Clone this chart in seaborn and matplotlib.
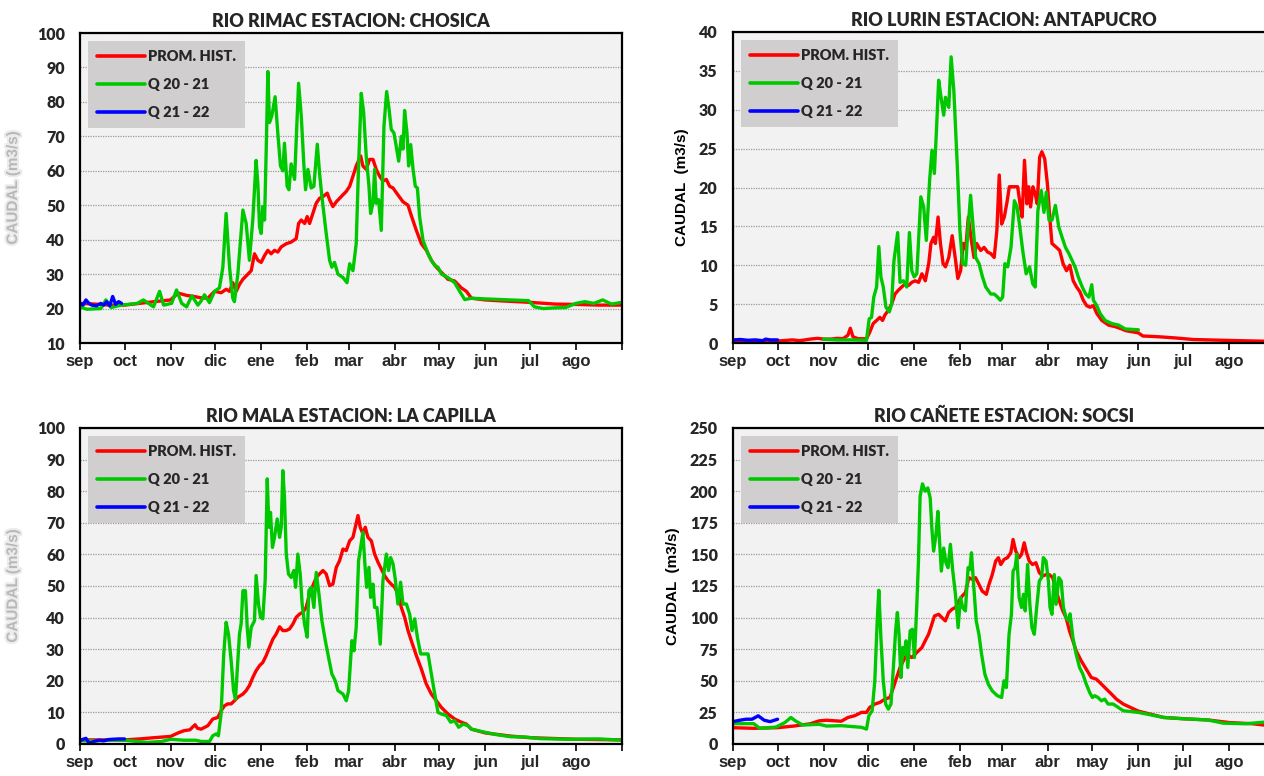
import matplotlib
matplotlib.use("Agg")
import matplotlib.pyplot as plt
import matplotlib.patheffects as pe
import pandas as pd
import seaborn as sns

# meses del año hidrologico (sep -> ago), dia de inicio de cada mes
months = ["sep", "oct", "nov", "dic", "ene", "feb", "mar", "abr", "may", "jun", "jul", "ago"]
month_start = [0, 30, 61, 91, 122, 153, 181, 212, 242, 273, 303, 334]
series_names = ["PROM. HIST.", "Q 20 - 21", "Q 21 - 22"]
colors = ["#ff0000", "#00c800", "#0000ff"]

# ---------------- RIMAC - CHOSICA (dia, caudal) ----------------
rimac_hist = [(0, 21.5), (10, 21.3), (20, 21), (30, 21), (40, 21.5), (50, 22), (61, 22.5), (66, 24.5),
              (72, 23.8), (77, 23.5), (81.6, 23.1), (86.1, 23), (90.6, 25), (95.1, 24.6), (98.4, 25.6),
              (100.7, 25), (102.9, 27.5), (105.2, 25), (107.4, 27), (109.7, 28.5), (113.1, 30), (115.3, 31),
              (117.5, 35.9), (119.8, 34), (122, 33.4), (124.3, 35.4), (126.5, 36.9), (128.7, 35.9),
              (131, 36.9), (133.2, 36.4), (135.5, 37.9), (138.8, 38.8), (142.2, 39.3), (145.6, 40.3),
              (147.2, 44.7), (149, 45.7), (151.3, 44.7), (153, 46.7), (154.6, 44.7), (156.8, 47.6),
              (159.1, 50.6), (161.3, 52), (163.6, 52.5), (166.5, 53.5), (168.1, 51.6), (170.3, 49.6),
              (172.6, 51), (175.9, 52.5), (179.3, 54), (181.6, 55.5), (183.8, 58.4), (186, 61.4),
              (189, 64.3), (190.5, 61.4), (192.8, 60.4), (195, 63.3), (197.3, 63.3), (199.5, 60.4),
              (201.8, 58.4), (204, 57), (206.3, 57.5), (208.5, 55.5), (210.8, 55), (214.1, 53), (217.5, 51),
              (220.9, 50), (223.1, 47), (226.5, 42.7), (229.9, 38.8), (233.3, 36.9), (236.6, 34), (240, 32),
              (243.4, 30.5), (247.8, 28.5), (252.3, 28), (256.8, 26), (260.2, 25), (263.6, 23), (273, 22.5),
              (285, 22.2), (303, 21.8), (320, 21.3), (334, 21.2), (350, 21), (365, 21)]
rimac_q2021 = [(0, 20.5), (4.6, 19.8), (14.1, 20), (17.4, 22.5), (20.9, 20.3), (27.7, 21), (38.6, 21.5),
               (42.7, 22.5), (49.5, 20.5), (53.6, 25), (56.3, 21), (61.7, 21.5), (65, 25.4), (68.5, 21.5),
               (71.8, 20.5), (75.3, 23.7), (79.4, 21), (81.6, 22.2), (83.8, 24), (87.2, 21.7), (90.6, 25),
               (93.9, 26), (96.2, 32), (98.4, 47.6), (100.7, 32), (102.9, 23), (104, 22), (106.3, 30),
               (109.7, 48.6), (111.9, 44.7), (114.1, 34), (116.4, 46), (118.6, 63), (119.8, 56),
               (120.9, 43.7), (122, 41.8), (123.1, 49.6), (124.3, 45.7), (125.4, 66), (126.5, 88.8),
               (127.6, 74), (129.2, 76), (131.4, 81.5), (133.2, 71), (135, 61.4), (136.6, 60), (137.7, 68),
               (139.5, 55.5), (140.7, 54.5), (142.2, 62), (144.5, 57.5), (147.2, 85.4), (149, 76),
               (150.8, 61.4), (151.9, 54.5), (153.5, 60.4), (155.7, 55), (157.5, 55.5), (159.8, 67.7),
               (161.3, 59.4), (162.9, 52.5), (165.8, 41.8), (168.1, 34), (169.6, 32), (171.4, 33.4),
               (173.7, 30), (177.1, 29), (179.8, 27.5), (181.6, 33), (183.8, 31), (186, 38.8), (187.6, 61.4),
               (189.4, 82.5), (191, 77), (192.8, 64), (194.6, 55.5), (195.7, 47.6), (197.3, 50.6),
               (198.4, 60.4), (199.5, 50.6), (201.1, 51.6), (202.9, 42.7), (204.7, 73), (206.5, 83),
               (208.1, 78), (209.6, 72), (211.4, 71), (213, 67), (214.6, 62.8), (216.4, 70), (217.5, 66.3),
               (218.6, 77.5), (220.2, 71), (221.3, 61.4), (222.7, 67.6), (224.3, 60.4), (225.8, 55.5),
               (227.2, 55), (228.7, 46.7), (231, 39.8), (234.4, 35.9), (236.6, 34), (238.9, 32.5),
               (241.1, 32), (243.4, 30), (247.8, 29), (252.3, 27.5), (255.7, 25), (259.1, 22.6),
               (263.6, 23), (273, 22.8), (290, 22.5), (302, 22.3), (306, 20.5), (312, 20), (320, 20.2),
               (327, 20.3), (334, 21.5), (340, 22), (346, 21.5), (352, 22.5), (358, 21.3), (365, 21.8)]
rimac_q2122 = [(0, 21.5), (2, 21), (4, 22.5), (6, 21.5), (8, 21), (11, 20.8), (14, 21.5), (16, 21),
               (18, 22), (20, 20.8), (22, 23.5), (24, 21.2), (26, 22), (28, 21.5)]

# ---------------- LURIN - ANTAPUCRO ----------------
lurin_hist = [(0, 0.3), (10, 0.25), (20, 0.2), (30, 0.25), (40, 0.4), (45, 0.3), (52, 0.5), (57, 0.6),
              (61, 0.5), (66, 0.5), (70, 0.6), (74, 0.55), (77.4, 1), (79, 1.9), (80.8, 0.8), (84.2, 0.55),
              (89.9, 0.55), (92.1, 1.4), (94.4, 2.5), (96.7, 2.9), (98.9, 3.3), (100.7, 2.9), (102.3, 3.6),
              (104.6, 4.2), (106.8, 5), (109.1, 6.3), (111.4, 6.8), (113.6, 7.2), (115.9, 7.6), (118.2, 7.4),
              (120.4, 7.8), (122.7, 8), (125, 7.8), (127.2, 8.9), (129.5, 8), (131.8, 10.2), (133.3, 12.8),
              (135.1, 13.6), (136.3, 12.8), (138.1, 16.2), (139.7, 12.8), (141.5, 10.2), (143.1, 9.8),
              (145.3, 11), (147.6, 13.8), (149.9, 10.6), (151.4, 8.3), (153.3, 9.3), (155.1, 12.8),
              (156.7, 12.1), (158.5, 16.2), (160.5, 13.2), (162.3, 11), (164.1, 12.8), (166.8, 11.9),
              (169.1, 12.3), (171.4, 11.7), (173.6, 11.5), (175.9, 11), (177.7, 14.5), (179.3, 21.6),
              (180.9, 15.3), (182.7, 16.2), (184.5, 18.1), (186.1, 20.1), (188.4, 20.1), (191.7, 20.1),
              (193.6, 17.5), (194.7, 16.2), (196.3, 23.5), (197.9, 17.9), (199.2, 20.1), (200.4, 17.5),
              (202, 20.1), (203.5, 19.2), (204.9, 17.9), (206.5, 23.9), (208, 24.6), (209.9, 23.7),
              (211.7, 20.5), (213.3, 16.2), (214.8, 12.8), (217.8, 12.3), (220, 11.9), (222.3, 10.2),
              (224.6, 9.3), (226.8, 10), (229.1, 8), (231.4, 7.2), (233.6, 6.6), (235.9, 5.5), (238.2, 4.8),
              (240.4, 4.6), (242.7, 4.8), (245, 3.8), (248.4, 2.9), (252.9, 2.3), (257.4, 2.1), (261.9, 1.8),
              (264.2, 1.6), (273, 1.3), (276, 0.9), (287, 0.8), (298, 0.65), (310, 0.45), (330, 0.35),
              (365, 0.2)]
lurin_q2021 = [(61, 0.5), (70, 0.4), (80, 0.4), (89.9, 0.35), (91.7, 3.1), (93.3, 3.3), (94.8, 5.9),
               (96.7, 7.2), (98.2, 12.4), (99.6, 8.5), (101.2, 7.2), (103, 4.6), (105.3, 4), (106.8, 5),
               (108.4, 10.6), (110.9, 14.2), (112.5, 7.8), (114.8, 8), (117, 7.2), (118.8, 14.2),
               (120.4, 9.3), (122, 8.5), (123.8, 8.9), (126.5, 18.8), (128.4, 17.5), (130.2, 13.2),
               (132.4, 20.9), (134, 24.8), (135.6, 21.8), (137, 27.3), (138.5, 33.8), (140.1, 31.6),
               (141.9, 29.3), (143.1, 31.6), (145.3, 30.3), (146.9, 36.8), (148.7, 32.5), (151, 23),
               (152.8, 14.5), (154.6, 10.2), (156.7, 10), (158.2, 14.5), (160, 19), (161.9, 14.5),
               (163.4, 11), (165.7, 10.2), (168, 8.5), (170.2, 7.2), (173.6, 6.3), (175.9, 6.3),
               (178.2, 5.9), (180, 5.5), (181.6, 5.9), (183.1, 10.2), (185, 9.8), (187.2, 12.3),
               (189.5, 18.3), (191.3, 17.5), (192.9, 15.3), (195.1, 11.9), (197.4, 8.9), (199.7, 9.8),
               (201.9, 7.6), (203.5, 7.2), (205.3, 17), (207.6, 19.6), (209.4, 16.8), (211, 19.4),
               (212.8, 15.8), (214.8, 15.8), (217.1, 17.7), (219.4, 14.9), (221.6, 13.6), (223.9, 12.3),
               (226.2, 11.5), (228.4, 10.6), (230.7, 9.6), (232.5, 8.5), (235.2, 7.2), (237.5, 6.3),
               (239.7, 5.9), (241.6, 7.5), (242.7, 5.5), (245, 4.8), (247.2, 3.8), (250.6, 2.9),
               (255.1, 2.5), (259.7, 2.3), (264.2, 1.8), (273, 1.7)]
lurin_q2122 = [(0, 0.4), (5, 0.45), (10, 0.35), (15, 0.4), (20, 0.3), (22, 0.5), (25, 0.4), (30, 0.4)]

# ---------------- MALA - LA CAPILLA ----------------
mala_hist = [(0, 1.3), (15, 1.3), (30, 1.3), (40, 1.6), (50, 2), (61, 2.4), (66, 3.5), (70, 4.2), (74, 4.5),
             (77.5, 6.1), (79, 5), (81.6, 4.7), (86.1, 5.8), (89.4, 7.9), (92.8, 8.4), (95, 10.5),
             (97.3, 12.1), (99.5, 12.7), (101.8, 12.7), (104, 13.7), (106.3, 14.8), (109.7, 15.8),
             (111.9, 16.9), (114.1, 18.5), (116.4, 21.1), (118.6, 23.2), (120.9, 24.8), (123.1, 25.8),
             (125.4, 28), (127.6, 30.6), (129.9, 33.2), (132.1, 34.8), (134.4, 37.1), (136.6, 35.9),
             (138.9, 35.9), (141.1, 36.4), (143.4, 38), (145.6, 40.1), (147.8, 41.1), (150.1, 41.7),
             (152.3, 43.2), (154.6, 47.5), (156.8, 50.1), (159.1, 52.7), (161.3, 53.8), (163.6, 54.9),
             (165.8, 53.8), (168.1, 50.1), (170.3, 50.6), (172.6, 55.9), (174.8, 58), (177.1, 61.7),
             (179.3, 61.2), (181.6, 64.3), (183.8, 65.4), (185.4, 68.6), (187.2, 72.3), (188.7, 68.6),
             (190.5, 66.5), (192.1, 68.6), (193.9, 65.4), (196.2, 64.3), (198.4, 60.1), (200.7, 57.5),
             (202.9, 55.4), (205.1, 53.3), (207.4, 51.7), (209.6, 50.6), (211.9, 49.6), (214.1, 47.5),
             (216.4, 43.2), (218.6, 40.1), (220.9, 35.9), (223.1, 32.7), (226.5, 28), (229.9, 23.7),
             (233.2, 19), (236.6, 15.8), (240, 13.7), (243.3, 11.6), (247.8, 9.5), (252.3, 7.9),
             (256.8, 6.9), (260.2, 6.3), (263.6, 4.7), (273, 3.5), (290, 2.5), (303, 2), (334, 1.5),
             (365, 1.3)]
mala_q2021 = [(0, 1), (10, 1), (20, 1.2), (30, 1.2), (45, 0.5), (55, 0.8), (61, 1.5), (70, 1.2), (78, 1.2),
              (81.6, 0.8), (87.2, 0.8), (89.4, 2.6), (91.7, 3.2), (93.2, 2.6), (95, 9.5), (96.8, 28.5),
              (98.4, 38.5), (100, 34.8), (101.8, 26.4), (103.4, 16.9), (104.7, 14.2), (106.3, 26.4),
              (107.4, 34.8), (108.5, 38), (109.7, 48.5), (111.4, 48.5), (112.6, 36.9), (113.7, 30.6),
              (115.3, 36.9), (117.5, 39), (118.6, 53.3), (120.2, 44.3), (121.6, 40.1), (123.1, 39.6),
              (124.7, 51.7), (126.1, 83.9), (127.2, 68.6), (128.3, 73.3), (129.6, 62.2), (131, 65.4),
              (132.8, 71.2), (134.4, 65.4), (135.5, 68.6), (136.6, 86.5), (137.7, 78), (138.9, 60.1),
              (140.4, 53.8), (142.2, 52.7), (144, 54.9), (145.2, 49.6), (146.7, 60.1), (148.3, 53.8),
              (149.6, 44.3), (151.2, 38), (153, 33.8), (154.1, 48.5), (155.7, 49.6), (157.5, 43.2),
              (159.1, 54.3), (160.9, 47.5), (162.9, 39), (165.2, 32.7), (167.4, 27.4), (169.6, 22.2),
              (171.9, 20), (173.7, 16.9), (177.1, 15.8), (179.3, 13.7), (180.9, 16.9), (182.2, 26.4),
              (183.1, 32.7), (184.5, 29.5), (186, 36.9), (187.6, 58), (189, 62.2), (190.5, 67),
              (191.7, 58), (193, 49.6), (194.6, 55.9), (195.7, 46.4), (197.3, 50.6), (198.4, 43.2),
              (200, 43.2), (202.2, 31.6), (204, 51.7), (206.3, 60.1), (207.8, 54.9), (209.2, 59),
              (210.8, 57), (212.3, 52.2), (214.1, 44.3), (215.9, 51.2), (217.5, 44.3), (219.8, 44.3),
              (222, 41.1), (223.6, 35.9), (225.4, 39.6), (227.2, 33.8), (229.4, 28.5), (232.1, 28.5),
              (234.4, 28.5), (236.6, 22.2), (238.9, 15.8), (241.1, 10), (243.3, 9.5), (246.7, 9),
              (249.6, 6.9), (252.3, 7.4), (255, 5.3), (258, 6.3), (261.3, 5.8), (263.6, 4.7), (270, 4),
              (280, 3), (290, 2.3), (300, 2.2), (310, 1.7), (330, 1.5), (350, 1.6), (365, 1.2)]
mala_q2122 = [(0, 1), (2, 1.5), (4, 1.8), (6, 0.3), (8, 0.5), (10, 0.9), (13, 1.2), (16, 1), (19, 1.4),
              (22, 1.5), (26, 1.6), (30, 1.6)]

# ---------------- CAÑETE - SOCSI ----------------
canete_hist = [(0, 12.9), (14, 12.4), (30, 12.9), (41, 14.2), (52, 16), (58, 18.3), (63, 18.8), (72.9, 18),
               (77.4, 21), (82, 22.4), (86.5, 25), (89.9, 25), (92.1, 29), (95.5, 31.6), (98.9, 32.9),
               (102.3, 35.5), (105.7, 36.8), (108, 44.7), (110.2, 52.6), (112.5, 60.5), (114.7, 65.8),
               (117, 71), (120.4, 68.4), (122.6, 71), (124.9, 73.7), (127.2, 76.3), (129.4, 81.6),
               (131.7, 86.8), (133.9, 94.7), (135.7, 101.3), (138.5, 102.6), (140.7, 100), (143, 97.4),
               (145.2, 104), (147.5, 106.6), (149.8, 108), (152, 113), (154.3, 117), (156.5, 119.7),
               (158.8, 131.6), (161.1, 130.3), (163.3, 131.6), (165.6, 126.3), (167.8, 121), (170.6, 118.4),
               (172.4, 126.3), (174.6, 134), (176.9, 144.7), (178.7, 147.4), (180.3, 142), (182.5, 146),
               (184.8, 147.4), (187.1, 151.3), (188.6, 161.8), (190.4, 152.6), (192.7, 147.4), (194.3, 150),
               (196.1, 159.2), (197.7, 151.3), (199.5, 144.7), (201.7, 142), (204, 143.4), (206.3, 135.5),
               (208.5, 132.9), (210.8, 134), (213, 134), (215.3, 131.6), (217.6, 121), (219.8, 113),
               (222.1, 105.3), (224.3, 100), (226.6, 89.5), (228.9, 81.6), (231.1, 73.7), (234.5, 65.8),
               (237.9, 59.2), (241.3, 52.6), (244.7, 51.3), (248.1, 47.4), (251.5, 43.4), (254.9, 39.5),
               (258.2, 35.5), (262.8, 31.6), (273, 26), (290, 21), (303, 20), (320, 19), (334, 17),
               (350, 16), (365, 14)]
canete_q2021 = [(0, 16.1), (14, 16.1), (18, 12.4), (29, 13.4), (35, 17), (39, 21), (42, 18.3), (47, 15),
                (58, 15.6), (63, 14.2), (72.9, 14.5), (86.5, 13.2), (89.9, 11.8), (91.5, 22.4), (93.7, 26.3),
                (95.5, 50), (97.1, 97), (98.2, 121.6), (99.6, 84), (101.2, 50), (102.8, 31.6), (104.6, 27.6),
                (106.4, 31.6), (108, 60.5), (109.5, 89.5), (110.7, 104), (111.8, 86.8), (113.1, 52.6),
                (114.3, 76.3), (115.4, 71), (116.5, 81.6), (117.7, 60.5), (119.3, 89.5), (120.8, 90.8),
                (122.2, 68.4), (123.8, 110.5), (124.9, 144.7), (126, 196), (127.6, 205.8), (129.4, 200),
                (131.2, 202.6), (132.8, 194.7), (133.9, 171), (135.1, 152.6), (136.7, 165.8), (138, 184),
                (139.1, 160.5), (140.3, 136.8), (141.9, 155), (143.4, 143.4), (144.8, 139.5), (146.4, 158),
                (148, 136.8), (149.8, 118.4), (151.6, 92), (153.2, 115.8), (154.7, 108), (156.5, 105.3),
                (158.3, 139.5), (159.5, 138), (160.6, 151.3), (162.2, 123.7), (163.8, 97.4), (165.6, 86.8),
                (167.4, 71), (169.6, 55.3), (171.9, 47.4), (174.6, 42), (178, 38.2), (180.9, 36.8),
                (182.5, 50), (184.1, 44.7), (185.9, 86.8), (187.5, 102.6), (188.6, 136.8), (190, 139.5),
                (191.1, 150), (192.7, 115.8), (194.3, 108), (195.6, 118.4), (196.8, 105.3), (198.4, 142),
                (199.9, 110.5), (201.3, 92), (202.9, 86.8), (204.5, 108), (206.3, 129), (207.8, 131.6),
                (209, 147.4), (210.8, 144.7), (212.4, 129), (213.5, 108), (214.8, 102.6), (216.4, 134),
                (217.6, 110.5), (219.4, 131.6), (221, 129), (222.5, 108), (224.3, 100), (226.1, 97.4),
                (227, 103), (228.9, 84.2), (231.1, 71), (233.4, 60.5), (235.6, 55.3), (237.9, 47.4),
                (240.2, 40.8), (242, 36.8), (243.6, 38.2), (245.8, 36.8), (248.1, 34.2), (250.3, 35.5),
                (252.6, 31.6), (256, 31.6), (259.4, 29), (262.8, 26.3), (273, 25), (290, 21), (303, 20),
                (320, 19), (330, 16.5), (345, 16), (355, 17), (365, 18)]
canete_q2122 = [(0, 17.7), (4.6, 18.8), (8.7, 19.6), (12.8, 19.6), (17, 22.3), (21, 18.8), (25, 17.7),
                (30, 19.6)]

stations = [
    {"title": "RIO RIMAC ESTACION: CHOSICA", "series": [rimac_hist, rimac_q2021, rimac_q2122],
     "ylim": (10, 100), "step": 10, "faint": True},
    {"title": "RIO LURIN ESTACION: ANTAPUCRO", "series": [lurin_hist, lurin_q2021, lurin_q2122],
     "ylim": (0, 40), "step": 5, "faint": False},
    {"title": "RIO MALA ESTACION: LA CAPILLA", "series": [mala_hist, mala_q2021, mala_q2122],
     "ylim": (0, 100), "step": 10, "faint": True},
    {"title": "RIO CAÑETE ESTACION: SOCSI", "series": [canete_hist, canete_q2021, canete_q2122],
     "ylim": (0, 250), "step": 25, "faint": False},
]

sns.set_theme(style="white")
plt.rcParams["font.family"] = ["Lato", "DejaVu Sans"]

W, H = 1264, 776
fig = plt.figure(figsize=(W / 100, H / 100), dpi=100)
# rectangulos de ejes en pixeles: izquierda, arriba, ancho, alto
rects = [(80, 33, 542, 310), (733, 32, 542, 311), (80, 428, 542, 316), (733, 428, 542, 316)]

for st, (px, py, pw, ph) in zip(stations, rects):
    ax = fig.add_axes([px / W, (H - py - ph) / H, pw / W, ph / H])
    frames = []
    for name, pts in zip(series_names, st["series"]):
        d = pd.DataFrame(pts, columns=["dia", "caudal"])
        d["serie"] = name
        frames.append(d)
    df = pd.concat(frames, ignore_index=True)
    sns.lineplot(data=df, x="dia", y="caudal", hue="serie", hue_order=series_names,
                 palette=colors, linewidth=2.4, estimator=None, sort=False, ax=ax)

    ax.set_facecolor("#f2f2f2")
    ax.set_xlim(0, 365)
    lo, hi = st["ylim"]
    ax.set_ylim(lo, hi)
    ax.set_yticks(range(lo, hi + 1, st["step"]))
    ax.set_xticks(month_start + [365])
    ax.set_xticklabels(months + [""], fontfamily="Liberation Sans", fontweight="bold", fontsize=12)
    for t in ax.get_yticklabels():
        t.set_fontweight("heavy")
        t.set_fontsize(11.5)
    ax.tick_params(axis="x", direction="out", length=5, width=1.2, color="black", pad=3, bottom=True)
    ax.tick_params(axis="y", length=0, pad=11)
    ax.grid(axis="y", color="#9a9a9a", linestyle=(0, (1, 1)), linewidth=0.9)
    ax.grid(axis="x", visible=False)
    for sp in ax.spines.values():
        sp.set_color("black")
        sp.set_linewidth(1.6)
    ax.set_xlabel("")
    ax.set_title(st["title"], fontweight="heavy", fontsize=13, pad=4)

    if st["faint"]:
        ax.set_ylabel("CAUDAL (m3/s)", fontfamily="Liberation Sans", fontweight="bold", fontsize=11,
                      color="#b8b8b8", labelpad=12,
                      path_effects=[pe.withStroke(linewidth=3, foreground="#ececec")])
    else:
        ax.set_ylabel("CAUDAL  (m3/s)", fontfamily="Liberation Sans", fontweight="bold", fontsize=11,
                      color="black", labelpad=7)

    handles, labels = ax.get_legend_handles_labels()
    leg = ax.legend(handles, labels, loc="upper left", frameon=True, fancybox=False,
                    facecolor="#d0cece", edgecolor="none", framealpha=1, borderaxespad=0.55,
                    handlelength=3.3, handletextpad=0.2, labelspacing=1.05, borderpad=0.6,
                    prop={"weight": "heavy", "size": 10.5, "family": "Lato"})
    for ln in leg.get_lines():
        ln.set_linewidth(2.6)

fig.savefig("out.png", dpi=100)
